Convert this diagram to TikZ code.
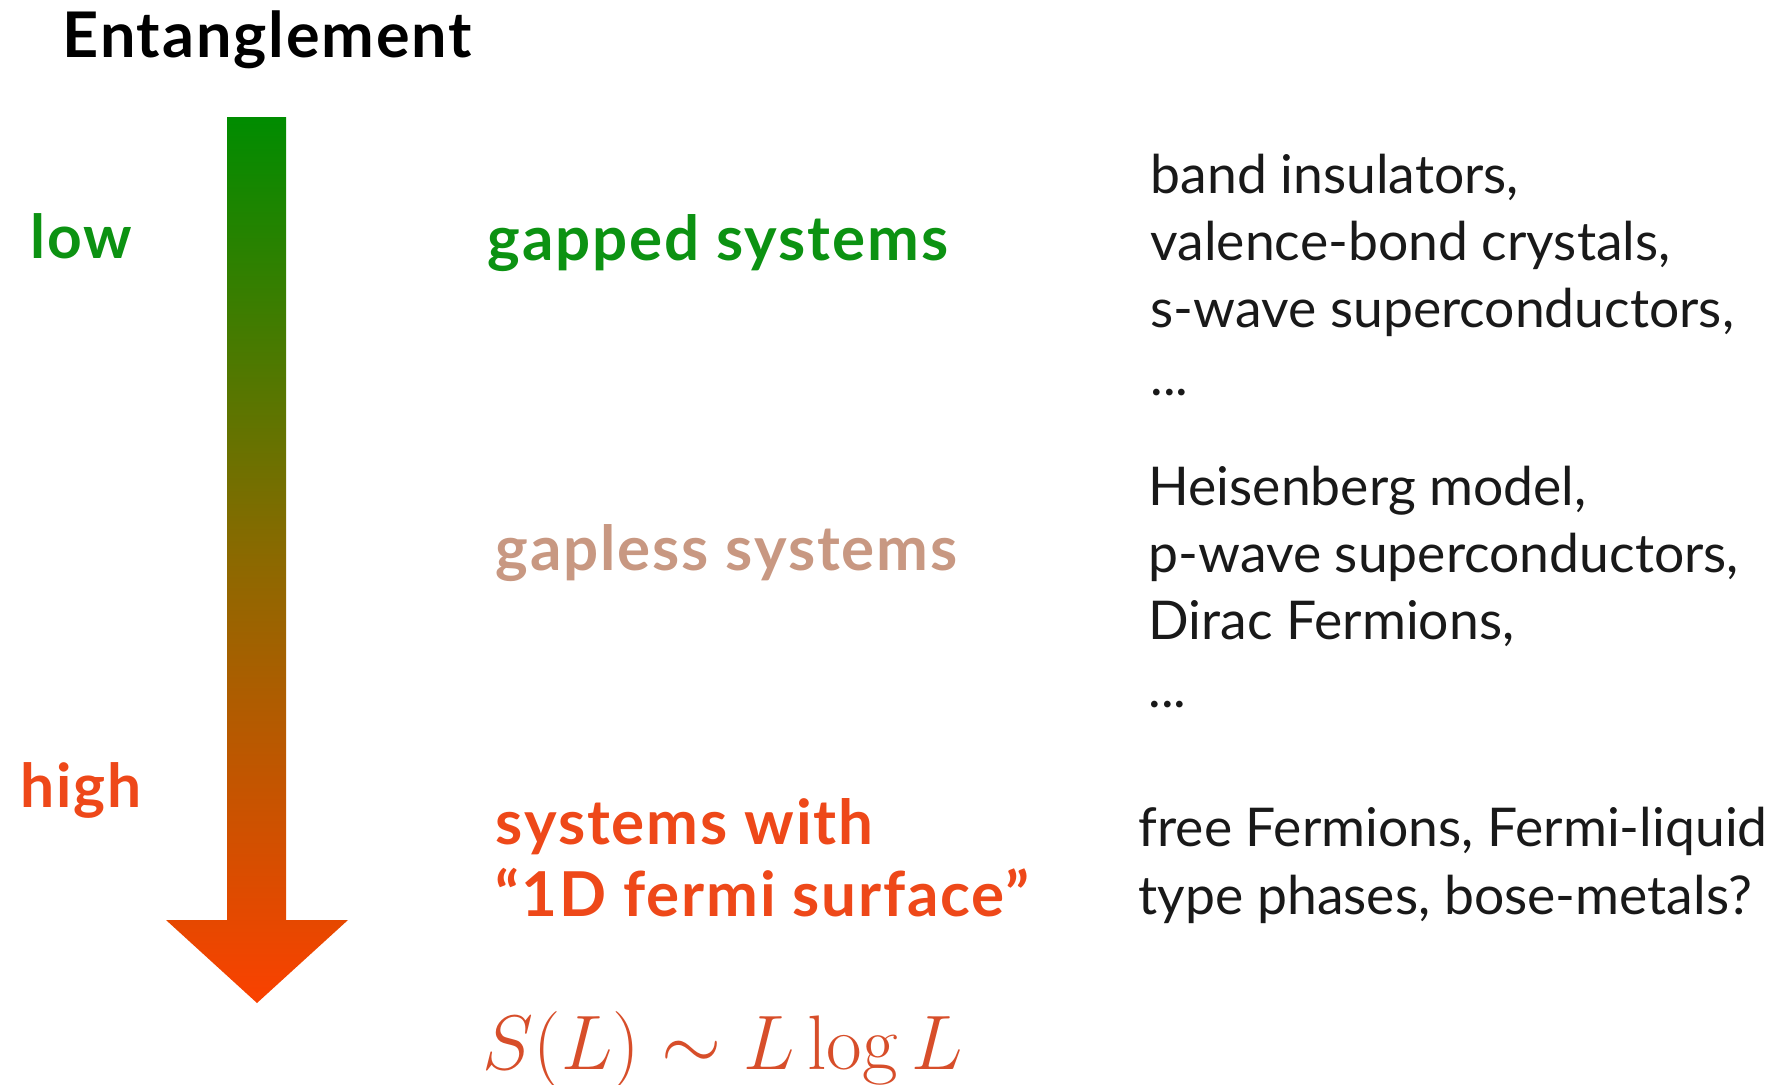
\documentclass[tikz,border=0pt]{standalone}
\usepackage{graphicx}
\usepackage[no-math]{fontspec}
\setmainfont{Lato}
\newfontfamily\labelfont[LetterSpace=3]{Lato}
\definecolor{LowGreen}{RGB}{12,146,18}
\definecolor{MidTan}{RGB}{200,152,130}
\definecolor{HighRed}{RGB}{238,72,25}
\definecolor{LawRed}{RGB}{215,78,42}
\definecolor{ArrowTop}{RGB}{0,140,0}
\definecolor{ArrowMid}{RGB}{140,105,0}
\definecolor{ArrowBot}{RGB}{250,65,0}
\definecolor{ExText}{RGB}{25,25,25}

\begin{document}
\begin{tikzpicture}[x=0.01cm, y=-0.01cm,
            title/.style={anchor=base west, inner sep=0pt, font=\labelfont\bfseries\fontsize{17.9}{20}\selectfont},
            level/.style={anchor=base west, inner sep=0pt, font=\labelfont\bfseries\fontsize{17.2}{20}\selectfont},
            cls/.style={anchor=base west, inner sep=0pt, align=left, font=\labelfont\bfseries\fontsize{17.6}{20.2}\selectfont},
            ex/.style={anchor=base west, inner sep=0pt, align=left, text=ExText, font=\fontsize{15.2}{19.1}\selectfont}
        ]
            \useasboundingbox (0,0) rectangle (1778,1084);
            % entanglement axis
            \shade[top color=ArrowTop, bottom color=ArrowBot, middle color=ArrowMid]
                (227,117) -- (286,117) -- (286,920) -- (348,920) -- (257,1003)
                -- (166,920) -- (227,920) -- cycle;
            \node[title] (ent)  at (62,57)   {Entanglement};
            \node[level, text=LowGreen] (low)  at (30,258)  {low};
            \node[level, text=HighRed]  (high) at (20,807)  {high};
            % classes of systems (multi-line nodes sit on their last line)
            \node[cls, text=LowGreen] (gapped)  at (487,260) {gapped systems};
            \node[cls, text=MidTan]   (gapless) at (495,570) {gapless systems};
            \node[cls, text=HighRed]  (fermi)   at (495,916) {systems with\\“1D fermi surface”};
            \node[anchor=base west, inner sep=0pt, text=LawRed, font=\fontsize{20.74}{26}\selectfont]
                (law) at (482,1069) {\scalebox{1.06}{$S(L)\sim L\log L$}};
            % examples
            \node[ex] (exgapped)  at (1150,395) {band insulators,\\valence-bond crystals,\\s-wave superconductors,\\...};
            \node[ex] (exgapless) at (1148,707) {Heisenberg model,\\p-wave superconductors,\\Dirac Fermions,\\...};
            \node[ex] (exfermi)   at (1138,914) {free Fermions, Fermi-liquid\\type phases, bose-metals?};
        \end{tikzpicture}
\end{document}
